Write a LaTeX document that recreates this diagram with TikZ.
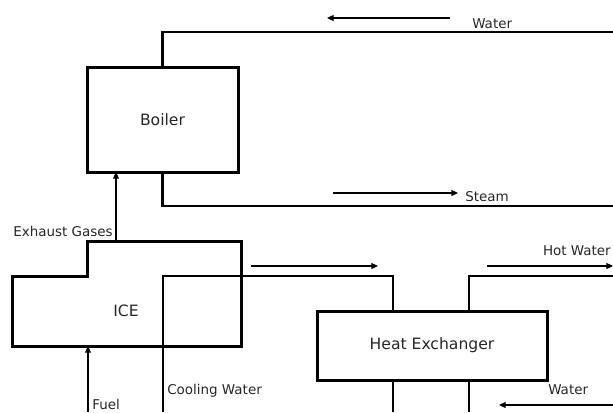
\documentclass[tikz,border=0pt]{standalone}
\usepackage{fontspec}
\setmainfont{DejaVu Sans}
\usetikzlibrary{arrows.meta}
\begin{document}
\begin{tikzpicture}[x=0.75pt,y=-0.75pt,
  box/.style={draw,line width=2.25pt,rectangle,inner sep=0pt,font=\fontsize{11.7}{13}\selectfont,text=black!85},
  pipe/.style={line width=1.6pt},
  flow/.style={line width=0.8pt,-{Triangle[length=5pt,width=4.5pt]}},
  lbl/.style={inner sep=0pt,font=\fontsize{10.1}{11}\selectfont,text=black!85}]
\useasboundingbox (0,0) rectangle (613,412);
% boxes
\node[box,minimum width=151*0.75pt,minimum height=105*0.75pt] (boiler) at (162.5,119.5) {Boiler};
\node[box,minimum width=230*0.75pt,minimum height=69*0.75pt] (hx) at (432,345.5) {Heat Exchanger};
\draw[line width=2.25pt] (12,276) -- (87,276) -- (87,241) -- (241,241) -- (241,346) -- (12,346) -- cycle;
\node[inner sep=0pt,font=\fontsize{11.7}{13}\selectfont,text=black!85] (ice) at (126,311) {ICE};
% coordinates
\coordinate (wR) at (613,32);
\coordinate (sR) at (613,206);
\coordinate (cwB) at (163,412);
\coordinate (hxInT) at (393,311);
\coordinate (hxOutT) at (469,311);
\coordinate (hxInB) at (393,380);
\coordinate (hxOutB) at (469,380);
\coordinate (bInB) at (393,412);
\coordinate (bOutB) at (469,412);
\coordinate (hwR) at (613,276);
\coordinate (exT) at (116,241);
\coordinate (exB) at (116,172);
\coordinate (fuB) at (88,412);
\coordinate (fuT) at (88,346);
% pipes
\draw[pipe] (boiler.north) |- (wR);
\draw[pipe] (boiler.south) |- (sR);
\draw[pipe] (cwB) |- (393,276) -- (hxInT);
\draw[pipe] (hxOutT) |- (hwR);
\draw[pipe] (hxInB) -- (bInB);
\draw[pipe] (hxOutB) -- (bOutB);
% flow arrows
\coordinate (a1s) at (450,18); \coordinate (a1e) at (327,18);
\coordinate (a2s) at (333,193); \coordinate (a2e) at (458,193);
\coordinate (a3s) at (251,266); \coordinate (a3e) at (378,266);
\coordinate (a4s) at (487,266); \coordinate (a4e) at (613,266);
\coordinate (a5s) at (613,405); \coordinate (a5e) at (499,405);
\draw[flow] (a1s) -- (a1e);
\draw[flow] (a2s) -- (a2e);
\draw[flow] (a3s) -- (a3e);
\draw[flow] (a4s) -- (a4e);
\draw[flow] (a5s) -- (a5e);
\draw[flow] (exT) -- (exB);
\draw[flow] (fuB) -- (fuT);
% labels
\node[lbl,anchor=west] (lw1) at (472,24) {Water};
\node[lbl,anchor=west] (ls) at (465,197) {Steam};
\node[lbl,anchor=east] (lex) at (113,231) {Exhaust Gases};
\node[lbl,anchor=east] (lhw) at (611,251) {Hot Water};
\node[lbl,anchor=west] (lw2) at (548,390) {Water};
\node[lbl,anchor=west] (lcw) at (167,391) {Cooling Water};
\node[lbl,anchor=west] (lf) at (92,404.5) {Fuel};
\end{tikzpicture}
\end{document}
